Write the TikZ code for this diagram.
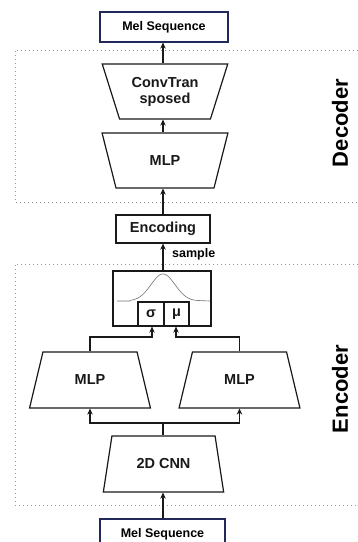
\documentclass[tikz,border=0pt]{standalone}
\usepackage{fontspec}
\setmainfont{Liberation Sans}
\usetikzlibrary{shapes.geometric,arrows.meta}
\definecolor{navy}{RGB}{35,40,90}
\definecolor{dotgray}{RGB}{150,150,150}
\begin{document}
\begin{tikzpicture}[x=1pt,y=-1pt,
  txt/.style={font=\fontsize{14.5}{16}\selectfont\bfseries, text=black!90},
  melbox/.style={draw=navy, line width=1.2pt, minimum width=128pt, minimum height=30pt, inner sep=0pt, font=\fontsize{12.5}{14}\selectfont\bfseries, fill=white},
  plainbox/.style={draw=black!90, line width=1.3pt, inner sep=0pt},
  trap/.style={trapezium, draw=black!90, line width=1.2pt, trapezium stretches=true, trapezium left angle=66.4, trapezium right angle=66.4, minimum width=121pt, minimum height=56pt, inner sep=0pt, txt, align=center},
  invtrap/.style={trap, shape border rotate=180, minimum width=126pt, minimum height=55pt},
  arr/.style={line width=1.2pt, draw=black!90, -{Stealth[length=6pt,width=5.5pt]}},
  conn/.style={line width=1.2pt, draw=black!90},
  region/.style={draw=dotgray, line width=0.9pt, dash pattern=on 1pt off 3pt},
  side/.style={font=\fontsize{22}{24}\selectfont\bfseries, rotate=90}
]
\useasboundingbox (0,0) rectangle (358,542);
\clip (0,0) rectangle (358,542);
\fill[white] (0,0) rectangle (358,542);

% regions
\draw[region] (370,50) -- (15,50) -- (15,202) -- (370,202);
\draw[region] (370,264) -- (15,264) -- (15,505) -- (370,505);
\node[side] (declab) at (340,123) {Decoder};
\node[side] (enclab) at (340,389) {Encoder};

% decoder
\node[melbox] (melout) at (164,27) {Mel Sequence};
\node[invtrap] (convt) at (165,91.5) {ConvTran\\sposed};
\node[invtrap] (mlpd) at (165,160.5) {MLP};
\node[plainbox, txt, minimum width=94pt, minimum height=28pt] (enc) at (163,229) {Encoding};

% latent
\node[plainbox, minimum width=98pt, minimum height=55pt] (gauss) at (162,298.5) {};
\draw[black!55, line width=0.6pt] (117,301) -- (130,301)
  plot[domain=130:196, samples=80, smooth] (\x,{301-27*exp(-((\x-163)/12)^2/2)})
  -- (210,301);
\node[plainbox, txt, minimum width=26pt, minimum height=24pt, fill=white] (sig) at (151,314) {σ};
\node[plainbox, txt, minimum width=25pt, minimum height=24pt, fill=white] (mu) at (176.5,314) {μ};
\node[font=\fontsize{12.5}{14}\selectfont\bfseries, anchor=west, inner sep=0pt] (samp) at (172,254) {sample};

% encoder
\node[trap] (mlpl) at (90,380) {MLP};
\node[trap] (mlpr) at (239.5,380) {MLP};
\node[trap] (cnn) at (163.5,464) {2D CNN};
\node[melbox, minimum width=125pt] (melin) at (162.5,534) {Mel Sequence};

% connectors
\draw[arr] (melin.north -| 163,0) -- (cnn.south -| 163,0);
\coordinate (split) at (163,423);
\draw[conn] (cnn.north -| 163,0) -- (split);
\draw[arr] (split) -| (mlpl.south);
\draw[arr] (split) -| (mlpr.south);
\draw[arr] (mlpl.north) |- (152,337) -- (sig.south -| 152,0);
\draw[arr] (mlpr.north) |- (176,337) -- (mu.south -| 176,0);
\draw[arr] (gauss.north -| 163,0) -- (enc.south -| 163,0);
\draw[arr] (enc.north -| 163,0) -- (mlpd.south -| 163,0);
\draw[arr] (mlpd.north -| 163,0) -- (convt.south -| 163,0);
\draw[arr] (convt.north -| 163,0) -- (melout.south -| 163,0);
\end{tikzpicture}
\end{document}
